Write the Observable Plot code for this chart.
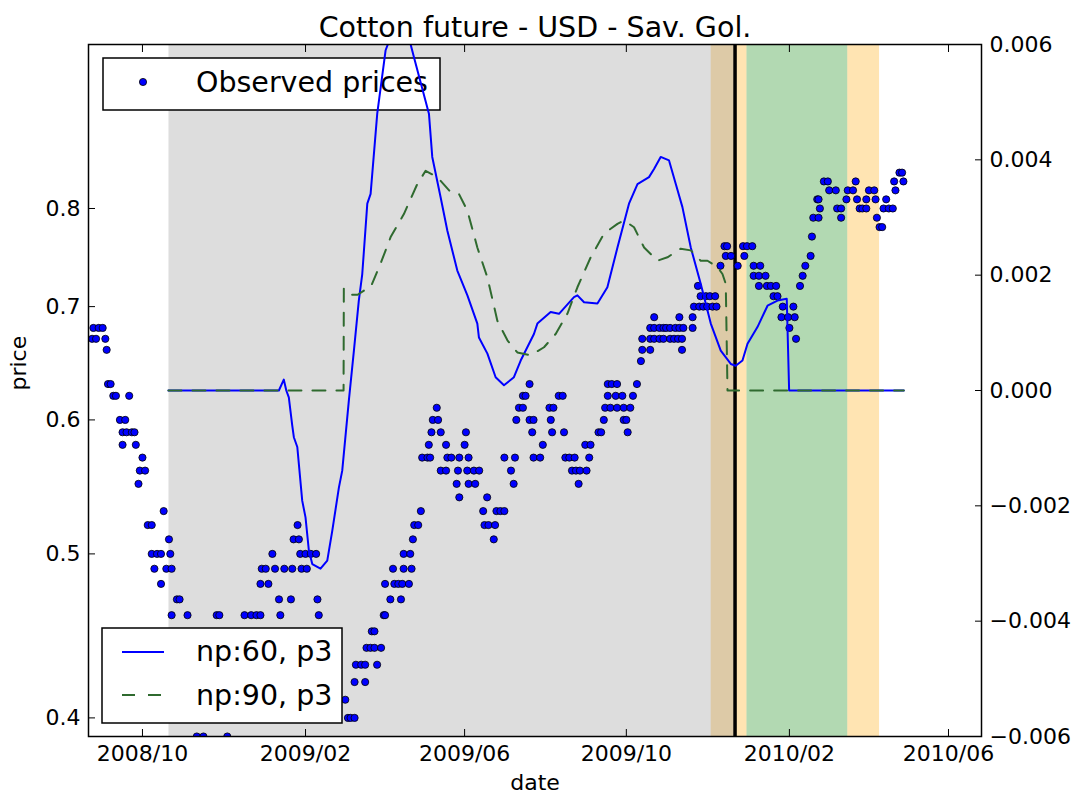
<!DOCTYPE html>
<html>
<head>
<meta charset="utf-8">
<script src="https://cdn.jsdelivr.net/npm/d3@7"></script>
<script src="https://cdn.jsdelivr.net/npm/@observablehq/plot@0.6"></script>
<style>
  body { margin: 0; background: #fff; font-family: "DejaVu Sans", sans-serif; }
  #wrap { position: relative; width: 1084px; height: 800px; overflow: hidden; background: #fff; }
  #wrap > svg { position: absolute; left: 0; top: 0; }
</style>
</head>
<body>
<div id="wrap"></div>
<script>
// ---------------- data ----------------
const title = "Cotton future - USD - Sav. Gol.";
const dayBase = "2008-10-01";            // day offsets below are counted from this date
const xRange = [-40.7, 632.9];           // visible date range, in days from dayBase

// observed prices (log axis, left): each price level and the days it was observed
const obsLevels = [0.39, 0.40, 0.41, 0.42, 0.43, 0.44, 0.45, 0.46, 0.47, 0.48, 0.49, 0.50,
  0.51, 0.52, 0.53, 0.54, 0.55, 0.56, 0.57, 0.58, 0.59, 0.60, 0.61, 0.62, 0.63, 0.65, 0.66,
  0.67, 0.68, 0.69, 0.70, 0.71, 0.72, 0.73, 0.74, 0.75, 0.76, 0.77, 0.78, 0.79, 0.80, 0.81,
  0.82, 0.83, 0.84];
const obsDays = [
  [41, 46, 64],
  [155, 157, 160],
  [153],
  [160, 168],
  [161, 165, 168, 177],
  [169, 172, 175, 180],
  [173, 175],
  [22, 34, 56, 58, 77, 82, 86, 89, 104, 133, 182, 183],
  [26, 28, 103, 112, 132, 187, 195],
  [14, 89, 95, 183, 190, 193, 196, 201],
  [9, 18, 22, 90, 93, 100, 107, 113, 120, 124, 189, 197, 203],
  [7, 11, 14, 21, 98, 119, 123, 127, 131, 197, 202],
  [20, 114, 118, 204, 265],
  [4, 7, 117, 205, 208, 258, 261, 266],
  [16, 210, 257, 267, 270, 273],
  [239, 260],
  [-3, 237, 246, 251, 280, 329],
  [-2, 2, 225, 229, 238, 245, 250, 254, 278, 324, 327, 330, 335],
  [0, 211, 215, 217, 230, 233, 239, 246, 273, 281, 295, 300, 319, 322, 326, 337],
  [-15, -5, 216, 229, 243, 302, 334, 338],
  [-15, -12, -8, -6, 218, 225, 244, 294, 309, 318, 344, 346, 366],
  [-17, -13, 219, 223, 282, 292, 295, 308, 348, 363, 365],
  [222, 284, 287, 307, 310, 349, 353, 358, 363, 368],
  [-22, -20, -10, 287, 289, 314, 317, 351, 357, 362, 370],
  [-26, -24, 292, 351, 354, 358, 373],
  [376],
  [-27, 377, 383, 407],
  [-38, -35, -28, 377, 383, 386, 390, 393, 398, 401, 404, 407, 493],
  [-37, -33, -30, 383, 386, 390, 393, 395, 398, 402, 405, 408, 415, 488],
  [386, 405, 415, 482, 487, 492],
  [416, 420, 423, 426, 430, 433, 483, 491],
  [421, 425, 428, 432, 476, 479],
  [419, 465, 471, 474, 478, 496],
  [461, 465, 470, 498],
  [436, 449, 461, 466, 500],
  [440, 444, 454, 504],
  [439, 441, 453, 456, 460],
  [505],
  [556, 558],
  [506, 510, 527, 554],
  [511, 524, 527, 541, 543, 546, 559, 563, 566],
  [509, 510, 531, 539, 546, 553, 561],
  [518, 523, 532, 536, 548, 552, 568],
  [514, 517, 538, 567, 574],
  [571, 573]
];

// Savitzky-Golay filtered slopes (right axis)
const np60Day = [19.6, 102.9, 106.6, 108.5, 110.4, 113, 114.2, 116.8, 120.5, 123, 125.5, 128.1,
  134.3, 139.4, 143.2, 148.2, 150.7, 155.7, 159.5, 163.2, 165.8, 169.6, 172.1, 177.1, 183.4,
  190.9, 196, 202.3, 204.8, 216.1, 218.6, 224.9, 230, 237.5, 245.1, 252.6, 253.8, 260.2, 266.4,
  272.7, 280.2, 285.3, 295.3, 297.9, 307.9, 314.2, 325.5, 328.1, 333.1, 343.2, 350.7, 358.3, 367,
  373.4, 382.1, 385.9, 390.9, 397.2, 402.3, 407.3, 413.6, 421.1, 428.7, 436.2, 443.8, 447.5,
  452.6, 456.4, 463.9, 471.5, 479, 486, 487.8, 574.3];
const np60Val = [0, 0, 0.00019, 0, -0.00012, -0.00061, -0.00081, -0.00098, -0.00191, -0.00220,
  -0.00277, -0.00301, -0.00309, -0.00295, -0.00243, -0.00168, -0.00139, -0.00017, 0.00069,
  0.00156, 0.00202, 0.00324, 0.00341, 0.00480, 0.00590, 0.00635, 0.00645, 0.00600, 0.00578,
  0.00480, 0.00405, 0.00335, 0.00277, 0.00208, 0.00165, 0.00116, 0.00092, 0.00064, 0.00023,
  0.00009, 0.00023, 0.00052, 0.00098, 0.00116, 0.00136, 0.00133, 0.00162, 0.00165, 0.00153,
  0.00151, 0.00179, 0.00248, 0.00324, 0.00358, 0.00370, 0.00384, 0.00405, 0.00399, 0.00358,
  0.00318, 0.00248, 0.00185, 0.00116, 0.00069, 0.00046, 0.00043, 0.00052, 0.00081, 0.00110,
  0.00147, 0.00156, 0.00159, 0, 0];
const np90Day = [19.6, 151.7, 151.9, 157, 162.3, 168.3, 172.1, 179.6, 187.2, 197.2, 207.3, 213.6,
  222.4, 232.5, 238.7, 245.1, 252.6, 260.2, 267.7, 275.3, 282.8, 292.8, 302.9, 311.7, 320.5,
  328.1, 338.1, 348.2, 358.3, 363.3, 370.8, 378.4, 388.5, 396, 406, 413.6, 421.1, 426.2, 433.7,
  437.5, 440, 441.3, 574.3];
const np90Val = [0, 0, 0.00177, 0.00166, 0.00166, 0.00175, 0.00179, 0.00220, 0.00266, 0.00306,
  0.00358, 0.00381, 0.00370, 0.00344, 0.00341, 0.00312, 0.00248, 0.00196, 0.00121, 0.00087,
  0.00066, 0.00061, 0.00075, 0.00098, 0.00133, 0.00179, 0.00231, 0.00272, 0.00289, 0.00295,
  0.00283, 0.00248, 0.00225, 0.00231, 0.00246, 0.00243, 0.00225, 0.00225, 0.00214, 0.00202,
  0.00185, 0, 0];

// shaded periods and the marked date
const shadeFrom = ["2009-12-04", "2010-03-17", "2009-12-31", "2008-10-21"];
const shadeTo   = ["2009-12-31", "2010-04-10", "2010-03-17", "2009-12-22"];
const shadeKind = ["transition", "transition", "signal", "window"];
const markDate = "2009-12-22";

// axis ticks
const priceTicks = [0.4, 0.5, 0.6, 0.7, 0.8];
const slopeTicks = [-0.006, -0.004, -0.002, 0, 0.002, 0.004, 0.006];
const dateTicks = ["2008-10-01", "2009-02-01", "2009-06-01", "2009-10-01", "2010-02-01", "2010-06-01"];
const legendObs = "Observed prices";
const legend60 = "np:60, p3";
const legend90 = "np:90, p3";

// ---------------- build ----------------
const base = new Date(dayBase + "T00:00:00Z").getTime();
const day = d => new Date(base + d * 864e5);
const iso = s => new Date(s + "T00:00:00Z");

const obs = obsLevels.flatMap((p, i) => obsDays[i].map(d => ({date: day(d), price: p})));
const np60 = np60Day.map((d, i) => ({date: day(d), v: np60Val[i]}));
const np90 = np90Day.map((d, i) => ({date: day(d), v: np90Val[i]}));
const shades = shadeFrom.map((f, i) => ({from: iso(f), to: iso(shadeTo[i]), kind: shadeKind[i]}));
const shadeFill = {window: "#8e8e8e", transition: "orange", signal: "green"};
const dTicks = dateTicks.map(iso);

const FONT = '"DejaVu Sans", "Bitstream Vera Sans", sans-serif';
const common = {
  width: 1084, height: 800,
  marginTop: 44, marginLeft: 88, marginRight: 103, marginBottom: 64
};
const xDomain = [day(xRange[0]), day(xRange[1])];

const p1 = Plot.plot({
  ...common,
  style: {fontFamily: FONT, fontSize: "22px", background: "white", color: "black"},
  x: {type: "utc", domain: xDomain},
  y: {type: "log", domain: [0.39, 1.0]},
  marks: [
    Plot.rect(shades, {x1: "from", x2: "to", fill: d => shadeFill[d.kind], fillOpacity: 0.3}),
    Plot.ruleX([iso(markDate)], {stroke: "black", strokeWidth: 3.5}),
    Plot.dot(obs, {x: "date", y: "price", r: 3.6, fill: "blue", stroke: "black", strokeWidth: 0.8, clip: true}),
    Plot.axisY(priceTicks, {anchor: "left", tickSize: 0, tickPadding: 8, label: null,
      tickFormat: d3.format(".1f"), fontSize: 22}),
    Plot.axisY(priceTicks, {anchor: "left", tickSize: -7, label: null, tickFormat: () => ""}),
    Plot.axisX(dTicks, {anchor: "bottom", tickSize: 0, tickPadding: 9, label: null,
      tickFormat: d3.utcFormat("%Y/%m"), fontSize: 22}),
    Plot.axisX(dTicks, {anchor: "bottom", tickSize: -7, label: null, tickFormat: () => ""}),
    Plot.axisX(dTicks, {anchor: "top", tickSize: -7, label: null, tickFormat: () => ""}),
    Plot.text([title], {text: d => d, frameAnchor: "top", dy: -28, fontSize: 28.5}),
    Plot.text(["date"], {text: d => d, frameAnchor: "bottom", dy: 53, fontSize: 22}),
    Plot.text(["price"], {text: d => d, frameAnchor: "left", dx: -70, rotate: -90, fontSize: 22})
  ]
});

const p2 = Plot.plot({
  ...common,
  style: {fontFamily: FONT, fontSize: "22px", background: "transparent", color: "black"},
  x: {type: "utc", domain: xDomain, axis: null},
  y: {domain: [-0.006, 0.006]},
  marks: [
    Plot.line(np60, {x: "date", y: "v", stroke: "blue", strokeWidth: 2, clip: true}),
    Plot.line(np90, {x: "date", y: "v", stroke: "#2f6a2f", strokeWidth: 2, strokeDasharray: "13,11", clip: true}),
    Plot.axisY(slopeTicks, {anchor: "right", tickSize: 0, tickPadding: 8, label: null,
      tickFormat: d3.format(".3f"), fontSize: 22}),
    Plot.axisY(slopeTicks, {anchor: "right", tickSize: -7, label: null, tickFormat: () => ""}),
    Plot.frame({stroke: "black", strokeWidth: 1.5})
  ]
});

// legends (drawn as overlays: the first sits under the slope lines, the second above all)
function legendLayer() {
  return d3.create("svg").attr("width", 1084).attr("height", 800)
    .style("position", "absolute").style("left", 0).style("top", 0)
    .style("font-family", FONT).style("pointer-events", "none");
}
const L1 = legendLayer();
L1.append("rect").attr("x", 103).attr("y", 58).attr("width", 337).attr("height", 52)
  .attr("fill", "white").attr("stroke", "black").attr("stroke-width", 1.5);
L1.append("circle").attr("cx", 143).attr("cy", 82).attr("r", 3.6)
  .attr("fill", "blue").attr("stroke", "black").attr("stroke-width", 0.8);
L1.append("text").attr("x", 196).attr("y", 92).attr("font-size", 28.5).text(legendObs);

const L2 = legendLayer();
L2.append("rect").attr("x", 102).attr("y", 628).attr("width", 240).attr("height", 95)
  .attr("fill", "white").attr("stroke", "black").attr("stroke-width", 1.5);
L2.append("line").attr("x1", 122).attr("x2", 164).attr("y1", 652).attr("y2", 652)
  .attr("stroke", "blue").attr("stroke-width", 2);
L2.append("line").attr("x1", 122).attr("x2", 164).attr("y1", 695).attr("y2", 695)
  .attr("stroke", "#2f6a2f").attr("stroke-width", 2).attr("stroke-dasharray", "13,13");
L2.append("text").attr("x", 196).attr("y", 661).attr("font-size", 28.5).text(legend60);
L2.append("text").attr("x", 196).attr("y", 705).attr("font-size", 28.5).text(legend90);

const wrap = document.getElementById("wrap");
wrap.append(p1, L1.node(), p2, L2.node());
</script>
</body>
</html>
